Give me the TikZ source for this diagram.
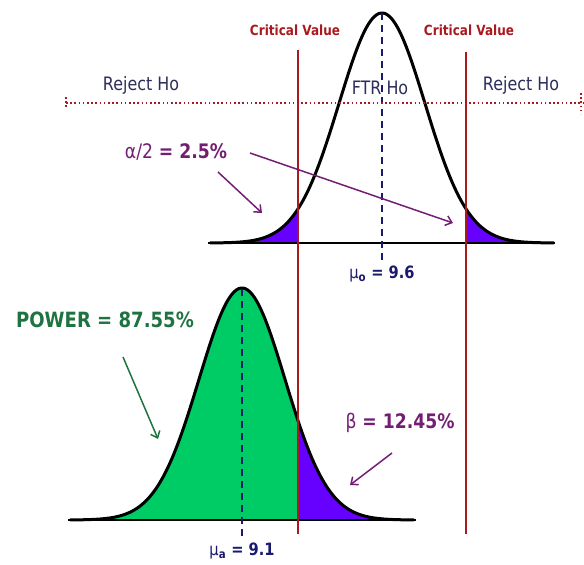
\documentclass[tikz,border=0pt]{standalone}
\usepackage{fontspec}
\setmainfont{DejaVu Sans}[FakeStretch=0.86]
\definecolor{critred}{RGB}{170, 25, 30}
\definecolor{meannavy}{RGB}{25, 25, 110}
\definecolor{regiongrey}{RGB}{45, 45, 90}
\definecolor{tailpurple}{RGB}{102, 0, 255}
\definecolor{powerfill}{RGB}{0, 204, 102}
\definecolor{powertext}{RGB}{30, 115, 65}
\definecolor{betatext}{RGB}{115, 30, 115}
\usetikzlibrary{arrows.meta, positioning}

\begin{document}
\begin{tikzpicture}[
    x=1pt, y=-1pt,
    declare function={gtop(\x)=243-230*exp(-0.5*((\x-382)/43)^2);
                      gbot(\x)=520-232*exp(-0.5*((\x-242)/43)^2);},
    cvlabel/.style={text=critred, font=\fontsize{14}{16}\selectfont\bfseries, inner sep=1pt},
    region/.style={text=regiongrey, font=\fontsize{18.5}{20}\selectfont, inner sep=1pt},
    meanlabel/.style={text=meannavy, font=\fontsize{17}{19}\selectfont\bfseries, inner sep=1pt},
    biglabel/.style={font=\fontsize{20}{22}\selectfont\bfseries, inner sep=1pt},
    curve/.style={line width=3pt, line join=round},
    axisline/.style={line width=2pt},
    critline/.style={critred, line width=2.2pt},
    meanline/.style={meannavy, line width=2.2pt, dash pattern=on 7pt off 5pt},
    divide/.style={critred, line width=1.8pt, dash pattern=on 1.6pt off 2.6pt},
    arr/.style={-{Straight Barb[length=6pt, width=10pt]}, line width=1.5pt}
]
    \useasboundingbox (0,0) rectangle (584,565);

    % tails and areas
    \fill[tailpurple] (210,243) -- plot[domain=210:298, samples=60] (\x,{gtop(\x)}) -- (298,243) -- cycle;
    \fill[tailpurple] (466,243) -- plot[domain=466:554, samples=60] (\x,{gtop(\x)}) -- (554,243) -- cycle;
    \fill[powerfill] (70,520) -- plot[domain=70:298, samples=100] (\x,{gbot(\x)}) -- (298,520) -- cycle;
    \fill[tailpurple] (298,520) -- plot[domain=298:414, samples=60] (\x,{gbot(\x)}) -- (414,520) -- cycle;

    % axes and curves
    \draw[axisline] (208,243) -- (555,243);
    \draw[axisline] (68,520) -- (416,520);
    \draw[curve] plot[domain=210:554, samples=150, smooth] (\x,{gtop(\x)});
    \draw[curve] plot[domain=70:414, samples=150, smooth] (\x,{gbot(\x)});

    % means
    \draw[meanline] (382,13) -- (382,262);
    \draw[meanline] (242,289) -- (242,538);

    % critical values
    \node[cvlabel] (cvleft) at (295,30) {Critical Value};
    \node[cvlabel] (cvright) at (469,30) {Critical Value};
    \draw[critline] (298,50) -- (298,534);
    \draw[critline] (466,52) -- (466,534);

    % decision regions
    \draw[divide] (66,103) -- (584,103);
    \draw[divide] (66,97) -- (66,109);
    \draw[divide] (581,93) -- (581,114);
    \node[region] (rejleft) at (141,85) {Reject Ho};
    \node[region] (ftr) at (380,88) {FTR Ho};
    \node[region] (rejright) at (521,85) {Reject Ho};

    \node[meanlabel] (muzero) at (382,274) {{\mdseries μ}\textsubscript{o} = 9.6};
    \node[meanlabel] (mualt) at (242,551) {{\mdseries μ}\textsubscript{a} = 9.1};

    % annotations
    \node[biglabel, text=betatext] (alpha) at (176,152) {{\mdseries α/2} = 2.5\%};
    \node[biglabel, text=powertext, font=\fontsize{21}{23}\selectfont\bfseries] (power) at (105,320) {POWER = 87.55\%};
    \node[biglabel, text=betatext] (beta) at (400,423) {{\mdseries β} = 12.45\%};

    \coordinate (lefttail) at (262,213);
    \coordinate (righttail) at (453,223);
    \coordinate (powerarea) at (158,439);
    \coordinate (betaarea) at (350,485);

    \draw[arr, betatext] ([shift={(42,20)}]alpha.center) -- (lefttail);
    \draw[arr, betatext] ([shift={(74,1)}]alpha.center) -- (righttail);
    \draw[arr, powertext] ([shift={(18,37)}]power.center) -- (powerarea);
    \draw[arr, betatext] ([shift={(-8,30)}]beta.center) -- (betaarea);
\end{tikzpicture}
\end{document}
